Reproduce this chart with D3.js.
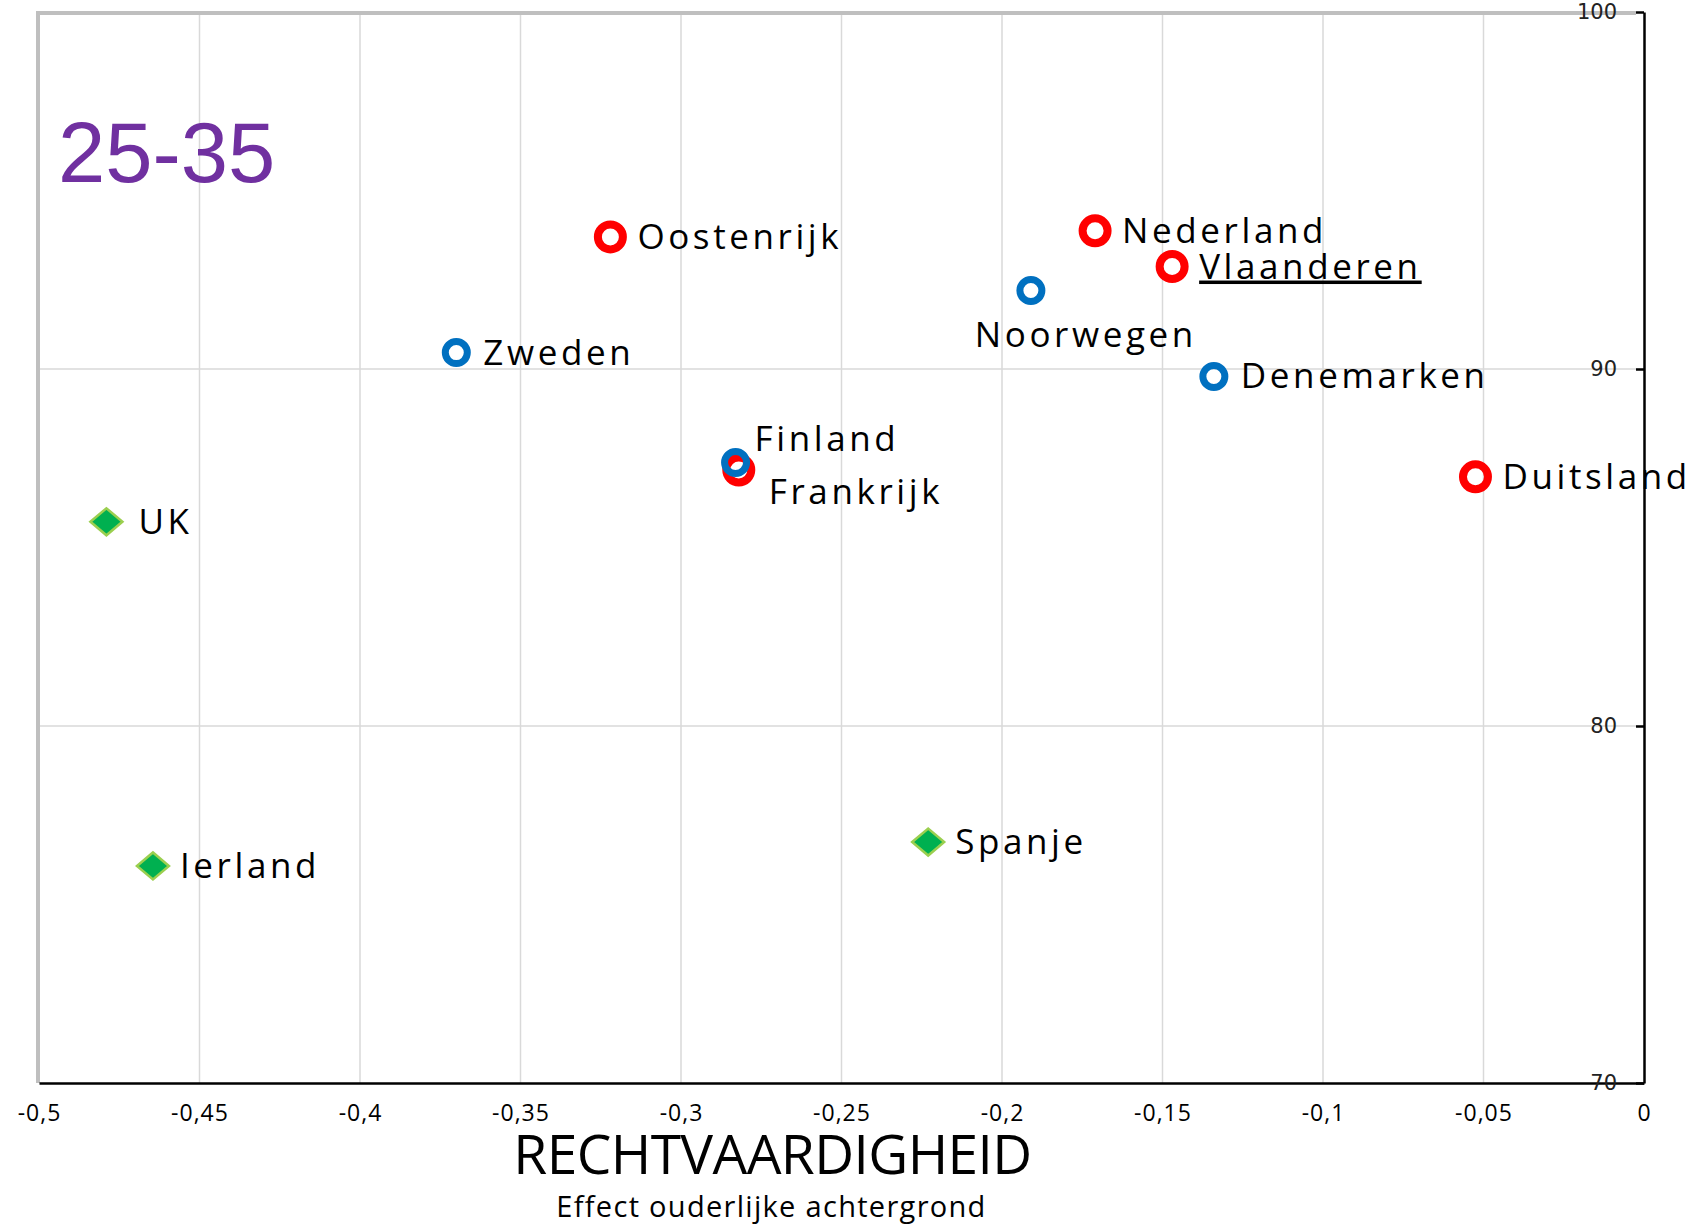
<!DOCTYPE html>
<html>
<head>
<meta charset="utf-8">
<script src="https://cdn.jsdelivr.net/npm/d3@7"></script>
<style>
  body { margin: 0; background: #fff; }
  svg { display: block; }
</style>
</head>
<body>
<div id="chart"></div>
<script>
// data
var countries = ["Oostenrijk", "Nederland", "Vlaanderen", "Frankrijk", "Duitsland",
                 "Noorwegen", "Zweden", "Denemarken", "Finland",
                 "UK", "Ierland", "Spanje"];
var effect = [-0.322, -0.171, -0.147, -0.282, -0.0525,
              -0.191, -0.370, -0.134, -0.283,
              -0.479, -0.4645, -0.223];
var score = [93.7, 93.87, 92.87, 87.17, 86.98,
             92.2, 90.46, 89.79, 87.38,
             85.72, 76.08, 76.75];
var groups = ["rood", "rood", "rood", "rood", "rood",
              "blauw", "blauw", "blauw", "blauw",
              "groen", "groen", "groen"];
var labelSide = ["right", "right", "right", "belowRight", "right",
                 "below", "right", "right", "aboveRight",
                 "right", "right", "right"];
var underlined = ["Vlaanderen"];
var xDomain = [-0.5, 0];
var yTicks = [70, 80, 90, 100];
var ageLabel = "25-35";
var xTitle = "RECHTVAARDIGHEID";
var xSubtitle = "Effect ouderlijke achtergrond";

var opt = {
  width: 1691,
  height: 1232,
  left: 39, right: 1644, top: 12, bottom: 1083
};

// label offsets relative to the marker
var place = {
  right:      {dx: 27, dy: 12, anchor: "start"},
  below:      {dx: 55, dy: 57, anchor: "middle"},
  aboveRight: {dx: 19, dy: -12, anchor: "start"},
  belowRight: {dx: 30, dy: 34, anchor: "start"}
};

var nl = d3.formatLocale({decimal: ",", thousands: ".", grouping: [3], currency: ["€", ""], minus: "-"});

var points = countries.map(function(c, i) {
  return {name: c, x: effect[i], y: score[i], group: groups[i], side: labelSide[i]};
});

var xScale = d3.scaleLinear().domain(xDomain).range([opt.left, opt.right]);
var yScale = d3.scaleLinear().domain([yTicks[0], yTicks[yTicks.length - 1]]).range([opt.bottom, opt.top]);

var svg = d3.select("#chart").append("svg")
  .attr("width", opt.width)
  .attr("height", opt.height)
  .style("background", "#fff");

// grid
svg.append("g")
  .selectAll("line")
  .data(xScale.ticks(10).slice(1, -1)).enter()
  .append("line")
  .attr("x1", function(d) { return xScale(d); })
  .attr("x2", function(d) { return xScale(d); })
  .attr("y1", opt.top)
  .attr("y2", opt.bottom)
  .style("stroke", "#d9d9d9")
  .style("stroke-width", 1.5);
svg.append("g")
  .selectAll("line")
  .data(yTicks.slice(1, -1)).enter()
  .append("line")
  .attr("x1", opt.left)
  .attr("x2", opt.right)
  .attr("y1", function(d) { return yScale(d); })
  .attr("y2", function(d) { return yScale(d); })
  .style("stroke", "#d9d9d9")
  .style("stroke-width", 1.5);

// grey frame top + left
svg.append("path")
  .attr("d", "M" + (opt.right - 8) + "," + (opt.top + 1) + "H" + (opt.left - 1) + "V" + opt.bottom)
  .style("fill", "none")
  .style("stroke", "#bfbfbf")
  .style("stroke-width", 4);

// y axis on the right, ticks pointing inward
var yAxis = svg.append("g")
  .attr("transform", "translate(" + opt.right + ",0)")
  .call(d3.axisLeft(yScale).tickValues(yTicks).tickSize(8).tickPadding(19).tickSizeOuter(0));
yAxis.select(".domain").style("stroke", "#000").style("stroke-width", 2.5);
yAxis.selectAll(".tick line").style("stroke", "#000").style("stroke-width", 2.5);
yAxis.selectAll("text")
  .style("font-family", "DejaVu Sans")
  .style("font-size", "21px")
  .style("fill", "#222");

// x axis, no tick marks
var xAxis = svg.append("g")
  .attr("transform", "translate(0," + opt.bottom + ")")
  .call(d3.axisBottom(xScale).ticks(10).tickFormat(nl.format("")).tickSize(0).tickPadding(22));
xAxis.select(".domain").style("stroke", "#000").style("stroke-width", 2.5);
xAxis.selectAll("text")
  .style("font-family", "Open Sans")
  .style("font-size", "23px")
  .style("letter-spacing", "1px")
  .style("fill", "#000");
// bring the y axis labels above the bottom line
yAxis.raise();

// axis titles
svg.append("text")
  .attr("x", (opt.left + opt.right) / 2 - 69)
  .attr("y", 1174)
  .attr("text-anchor", "middle")
  .style("font-family", "Open Sans")
  .style("font-size", "55px")
  .style("letter-spacing", "-0.6px")
  .text(xTitle);
svg.append("text")
  .attr("x", (opt.left + opt.right) / 2 - 70)
  .attr("y", 1217)
  .attr("text-anchor", "middle")
  .style("font-family", "Open Sans")
  .style("font-size", "29px")
  .style("letter-spacing", "1.3px")
  .text(xSubtitle);

// age group
svg.append("text")
  .attr("x", 58)
  .attr("y", 182)
  .style("font-family", "Liberation Sans")
  .style("font-size", "85px")
  .style("fill", "#7030a0")
  .text(ageLabel);

// markers: red first, then blue on top, then green diamonds
var ring = {rood: {color: "#ff0000", r: 12.5, w: 8}, blauw: {color: "#0070c0", r: 11, w: 7}};
svg.append("g")
  .selectAll("circle")
  .data(points.filter(function(d) { return d.group !== "groen"; })).enter()
  .append("circle")
  .attr("cx", function(d) { return xScale(d.x); })
  .attr("cy", function(d) { return yScale(d.y); })
  .attr("r", function(d) { return ring[d.group].r; })
  .style("fill", "none")
  .style("stroke", function(d) { return ring[d.group].color; })
  .style("stroke-width", function(d) { return ring[d.group].w; });

svg.append("g")
  .selectAll("path")
  .data(points.filter(function(d) { return d.group === "groen"; })).enter()
  .append("path")
  .attr("transform", function(d) { return "translate(" + xScale(d.x) + "," + yScale(d.y) + ")"; })
  .attr("d", "M-16,0L0,-13.5L16,0L0,13.5Z")
  .style("fill", "#00b050")
  .style("stroke", "#9bcf4f")
  .style("stroke-width", 2.5);

// country labels
svg.append("g")
  .selectAll("text")
  .data(points).enter()
  .append("text")
  .attr("x", function(d) { return xScale(d.x) + place[d.side].dx + (d.name === "UK" ? 5 : 0); })
  .attr("y", function(d) { return yScale(d.y) + place[d.side].dy; })
  .attr("text-anchor", function(d) { return place[d.side].anchor; })
  .style("font-family", "Open Sans")
  .style("font-size", "35px")
  .style("letter-spacing", "3.6px")
  .style("fill", "#000")
  .style("text-decoration", function(d) { return underlined.indexOf(d.name) >= 0 ? "underline" : "none"; })
  .text(function(d) { return d.name; });
</script>
</body>
</html>
